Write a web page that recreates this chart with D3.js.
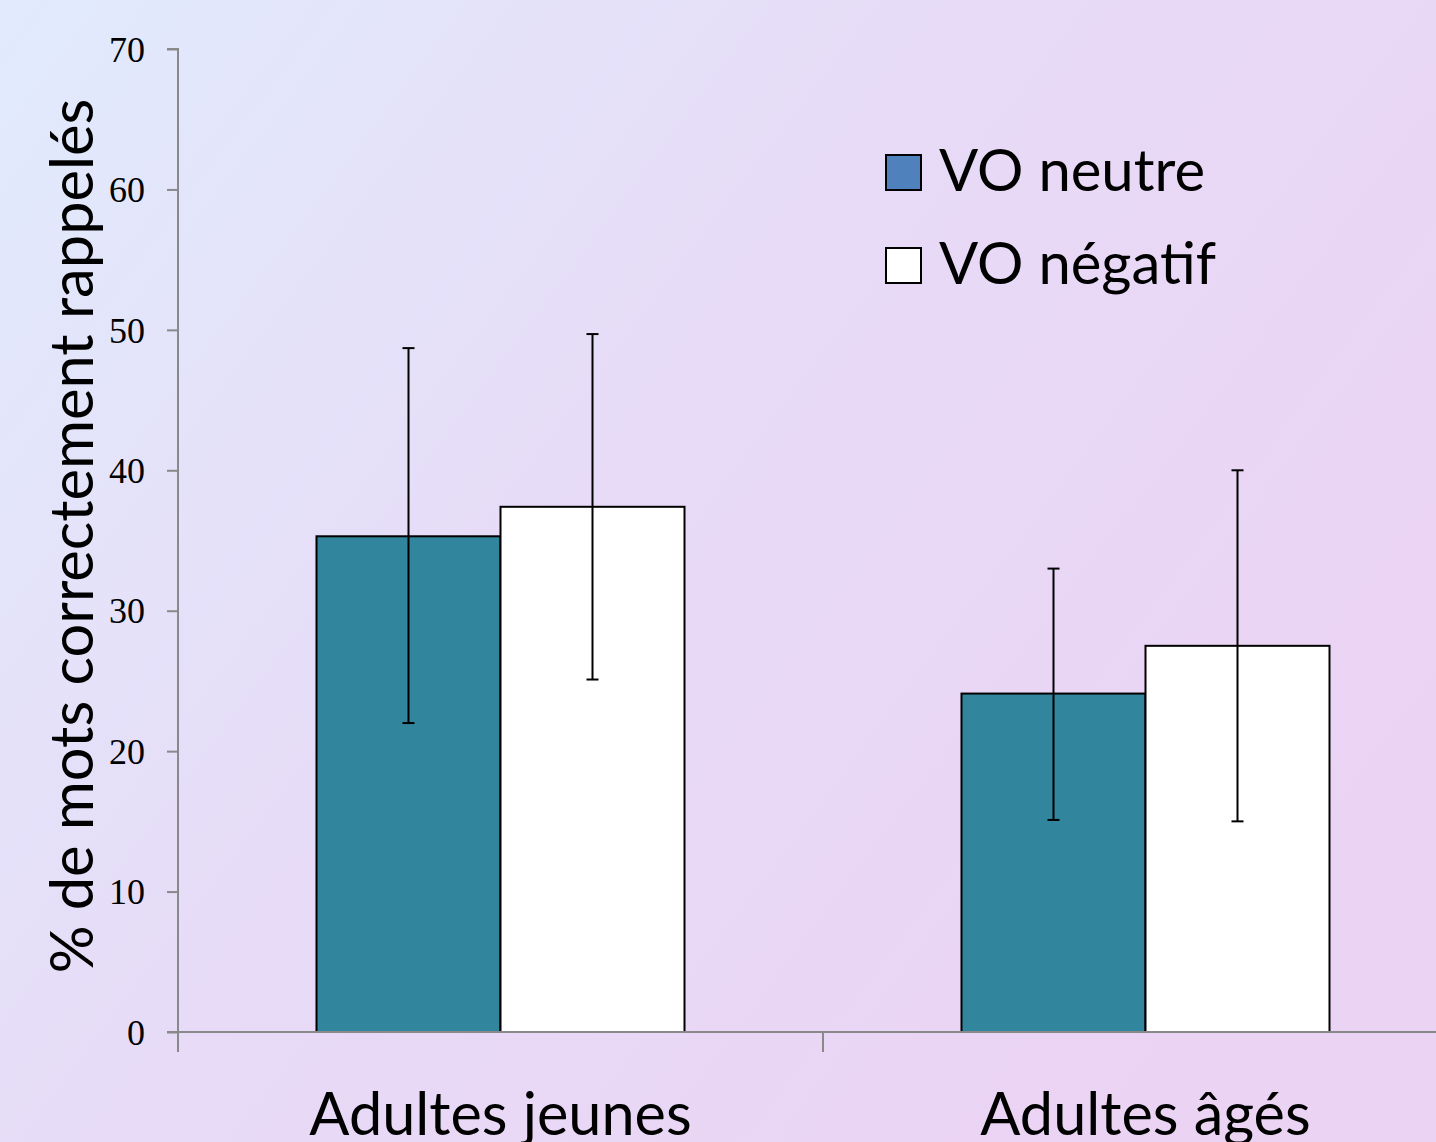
<!DOCTYPE html>
<html><head><meta charset="utf-8">
<script src="https://cdn.jsdelivr.net/npm/d3@7/dist/d3.min.js"></script>
<style>html,body{margin:0;padding:0;overflow:hidden;}</style>
</head><body>
<script>
const categories = ["Adultes jeunes", "Adultes âgés"];
const seriesNames = ["VO neutre", "VO négatif"];
const neutreValues = [35.3, 24.1];
const negatifValues = [37.4, 27.5];
const neutreErrLow = [22.0, 15.1];
const neutreErrHigh = [48.7, 33.0];
const negatifErrLow = [25.1, 15.0];
const negatifErrHigh = [49.7, 40.0];
const yTicks = [0, 10, 20, 30, 40, 50, 60, 70];
const yLabel = "% de mots correctement rappelés";

const W = 1436, H = 1142;
const svg = d3.select("body").append("svg").attr("width", W).attr("height", H);
const defs = svg.append("defs");
const grad = defs.append("linearGradient").attr("id","bg").attr("x1","0").attr("y1","0").attr("x2","1").attr("y2","0.6");
grad.append("stop").attr("offset","0").attr("stop-color","#e1ebfd");
grad.append("stop").attr("offset","0.5").attr("stop-color","#e7dbf7");
grad.append("stop").attr("offset","1").attr("stop-color","#ebd3f4");
svg.append("rect").attr("width",W).attr("height",H).attr("fill","url(#bg)");

const x0 = 178, y0 = 1032, yTop = 49;
const y = d3.scaleLinear().domain([0,70]).range([y0, yTop]);
const x = d3.scaleBand().domain(categories).range([x0, x0 + 645*2]).paddingInner(0).paddingOuter(0);
const xs = d3.scaleBand().domain(seriesNames).range([0, x.bandwidth()]).paddingInner(0).paddingOuter(0.7527);

const data = categories.map((c,i)=>[
  {c, s: seriesNames[0], v: neutreValues[i], lo: neutreErrLow[i], hi: neutreErrHigh[i], fill:"#31859c"},
  {c, s: seriesNames[1], v: negatifValues[i], lo: negatifErrLow[i], hi: negatifErrHigh[i], fill:"#ffffff"}
]).flat();

// bars
svg.append("g").selectAll("rect").data(data).join("rect")
  .attr("x", d=>x(d.c)+xs(d.s))
  .attr("y", d=>y(d.v))
  .attr("width", xs.bandwidth())
  .attr("height", d=>y0 - y(d.v))
  .attr("fill", d=>d.fill)
  .attr("stroke","#000").attr("stroke-width",2);

// error bars
const eb = svg.append("g").attr("stroke","#000").attr("stroke-width",2);
data.forEach(d=>{
  const cx = x(d.c)+xs(d.s)+xs.bandwidth()/2;
  eb.append("line").attr("x1",cx).attr("x2",cx).attr("y1",y(d.lo)).attr("y2",y(d.hi));
  eb.append("line").attr("x1",cx-6).attr("x2",cx+6).attr("y1",y(d.lo)).attr("y2",y(d.lo));
  eb.append("line").attr("x1",cx-6).attr("x2",cx+6).attr("y1",y(d.hi)).attr("y2",y(d.hi));
});

// y axis
const yAxis = d3.axisLeft(y).tickValues(yTicks).tickSize(11).tickPadding(22).tickFormat(d3.format("d"));
const gy = svg.append("g").attr("transform",`translate(${x0},0)`).call(yAxis);
gy.select(".domain").attr("stroke","#898989").attr("stroke-width",2).attr("d",`M-11,${yTop}H0V${y0}`);
gy.selectAll(".tick line").attr("stroke","#898989").attr("stroke-width",2);
gy.selectAll(".tick text").attr("font-family","'Liberation Serif', serif").attr("font-size",36).attr("fill","#000").attr("dy","0.34em");

// x axis
const gx = svg.append("g").attr("transform",`translate(0,${y0})`);
gx.append("line").attr("x1",x0-11).attr("x2",W).attr("y1",0).attr("y2",0).attr("stroke","#898989").attr("stroke-width",2);
[x0, x0+x.bandwidth()].forEach(t=>{
  gx.append("line").attr("x1",t).attr("x2",t).attr("y1",0).attr("y2",20).attr("stroke","#898989").attr("stroke-width",2);
});
gx.selectAll("text.cat").data(categories).join("text").attr("class","cat")
  .attr("x", d=>x(d)+x.bandwidth()/2)
  .attr("y", 103)
  .attr("text-anchor","middle")
  .attr("font-family","Lato, 'Open Sans', sans-serif").attr("font-size",59.4)
  .text(d=>d);

// y label
svg.append("text").attr("transform",`translate(93,536) rotate(-90)`)
  .attr("text-anchor","middle").attr("font-family","Lato, 'Open Sans', sans-serif").attr("font-size",59.6)
  .text(yLabel);

// legend
const lg = svg.append("g");
const legendFills = ["#4f81bd", "#ffffff"];
seriesNames.forEach((s,i)=>{
  const ly = 172 + i*93;
  lg.append("rect").attr("x",886).attr("y",ly-17).attr("width",35).attr("height",35)
    .attr("fill",legendFills[i]).attr("stroke","#000").attr("stroke-width",2);
  lg.append("text").attr("x",939).attr("y",ly+19).attr("font-family","Lato, 'Open Sans', sans-serif")
    .attr("font-size",58).text(s);
});
</script>
</body></html>
